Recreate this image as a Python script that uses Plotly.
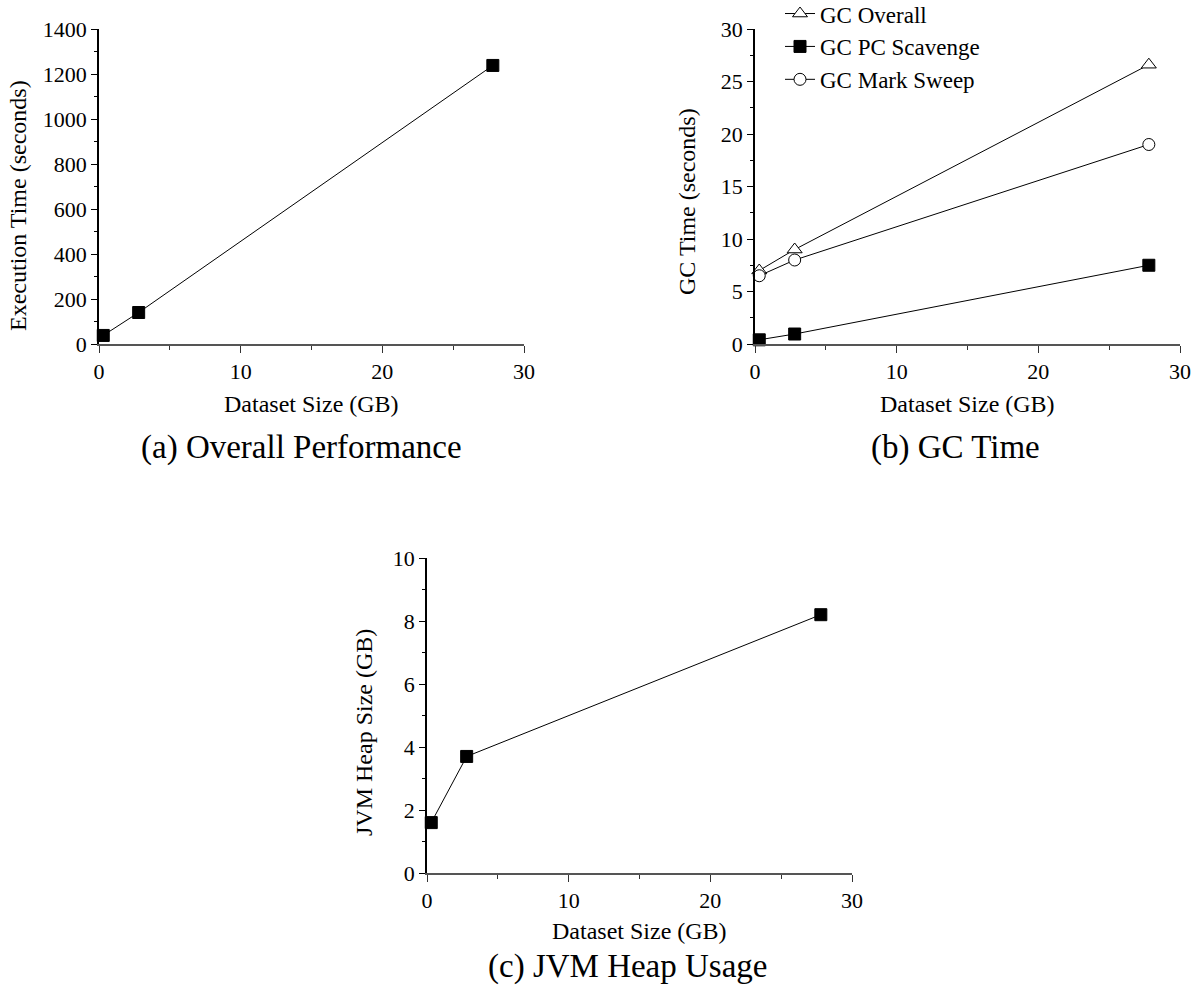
import plotly.graph_objects as go

# ---------------- data ----------------
dataset_gb = [0.3, 2.8, 27.8]
exec_time_s = [38, 140, 1238]
gc_overall_s = [7.0, 9.0, 26.6]
gc_pc_scavenge_s = [0.4, 0.95, 7.5]
gc_mark_sweep_s = [6.5, 8.0, 19.0]
jvm_heap_gb = [1.6, 3.7, 8.2]

x_title = "Dataset Size (GB)"
y_titles = ["Execution Time (seconds)", "GC Time (seconds)", "JVM Heap Size (GB)"]
captions = ["(a) Overall Performance", "(b) GC Time", "(c) JVM Heap Usage"]
legend_names = ["GC Overall", "GC PC Scavenge", "GC Mark Sweep"]

W, H = 1195, 991
FONT = "Liberation Serif"


def px(x):
    return x / W


def py(y):
    return 1 - y / H


fig = go.Figure()

sq = dict(symbol="square", size=12, color="black", line=dict(color="black", width=1))
line = dict(color="black", width=1)

fig.add_trace(go.Scatter(x=dataset_gb, y=exec_time_s, mode="lines+markers", marker=sq, line=line,
                         showlegend=False, cliponaxis=False, xaxis="x", yaxis="y"))

fig.add_trace(go.Scatter(x=dataset_gb, y=gc_overall_s, mode="lines+markers", name=legend_names[0],
                         marker=dict(symbol="triangle-up", size=13, color="white", line=dict(color="black", width=1)),
                         line=line, cliponaxis=False, xaxis="x2", yaxis="y2"))
fig.add_trace(go.Scatter(x=dataset_gb, y=gc_pc_scavenge_s, mode="lines+markers", name=legend_names[1],
                         marker=sq, line=line, cliponaxis=False, xaxis="x2", yaxis="y2"))
fig.add_trace(go.Scatter(x=dataset_gb, y=gc_mark_sweep_s, mode="lines+markers", name=legend_names[2],
                         marker=dict(symbol="circle", size=12, color="white", line=dict(color="black", width=1)),
                         line=line, cliponaxis=False, xaxis="x2", yaxis="y2"))

fig.add_trace(go.Scatter(x=dataset_gb, y=jvm_heap_gb, mode="lines+markers", marker=sq, line=line,
                         showlegend=False, cliponaxis=False, xaxis="x3", yaxis="y3"))

tickfont = dict(family=FONT, size=22, color="black")


def xax(domain, anchor):
    return dict(domain=domain, anchor=anchor, range=[0, 30], dtick=10, tick0=0,
                showgrid=False, zeroline=False, showline=True, linecolor="#555", linewidth=2,
                ticks="outside", ticklen=7, tickwidth=1.3, tickcolor="#333", tickfont=tickfont,
                minor=dict(dtick=5, ticks="outside", ticklen=4, tickwidth=1.3, tickcolor="#333", showgrid=False))


def yax(domain, anchor, rng, dt):
    return dict(domain=domain, anchor=anchor, range=rng, dtick=dt, tick0=0,
                showgrid=False, zeroline=False, showline=True, linecolor="black", linewidth=1.5,
                ticks="outside", ticklen=6, tickwidth=1.3, tickcolor="black", tickfont=tickfont,
                minor=dict(dtick=dt / 2, ticks="outside", ticklen=3, tickwidth=1.3, tickcolor="black", showgrid=False))


top_y = [py(344), py(29)]
bot_y = [py(873), py(558)]

fig.update_layout(
    width=W, height=H,
    margin=dict(l=0, r=0, t=0, b=0, autoexpand=False),
    paper_bgcolor="white", plot_bgcolor="white",
    font=dict(family=FONT, color="black"),
    xaxis=xax([px(99), px(524)], "y"),
    yaxis=yax(top_y, "x", [0, 1400], 200),
    xaxis2=xax([px(755), px(1180)], "y2"),
    yaxis2=yax(top_y, "x2", [0, 30], 5),
    xaxis3=xax([px(427), px(852)], "y3"),
    yaxis3=yax(bot_y, "x3", [0, 10], 2),
    showlegend=True,
    legend=dict(x=px(780), y=1.008, xanchor="left", yanchor="top",
                bgcolor="rgba(0,0,0,0)", font=dict(family=FONT, size=23, color="black"),
                tracegroupgap=0, itemsizing="trace"),
)

annotations = []
# x-axis titles
for cx, cy in [(311, 404), (967, 404), (639, 931)]:
    annotations.append(dict(text=x_title, x=px(cx), y=py(cy), xref="paper", yref="paper",
                            showarrow=False, xanchor="center", yanchor="middle",
                            font=dict(family=FONT, size=24, color="black")))
# y-axis titles
for t, (cx, cy) in zip(y_titles, [(18, 206), (687, 202), (364, 733)]):
    annotations.append(dict(text=t, x=px(cx), y=py(cy), xref="paper", yref="paper",
                            showarrow=False, xanchor="center", yanchor="middle", textangle=-90,
                            font=dict(family=FONT, size=24, color="black")))
# captions
for t, (cx, cy) in zip(captions, [(301, 447), (955, 447), (628, 966)]):
    annotations.append(dict(text=t, x=px(cx), y=py(cy), xref="paper", yref="paper",
                            showarrow=False, xanchor="center", yanchor="middle",
                            font=dict(family=FONT, size=33, color="black")))
fig.update_layout(annotations=annotations)

fig.write_html("out.html")
